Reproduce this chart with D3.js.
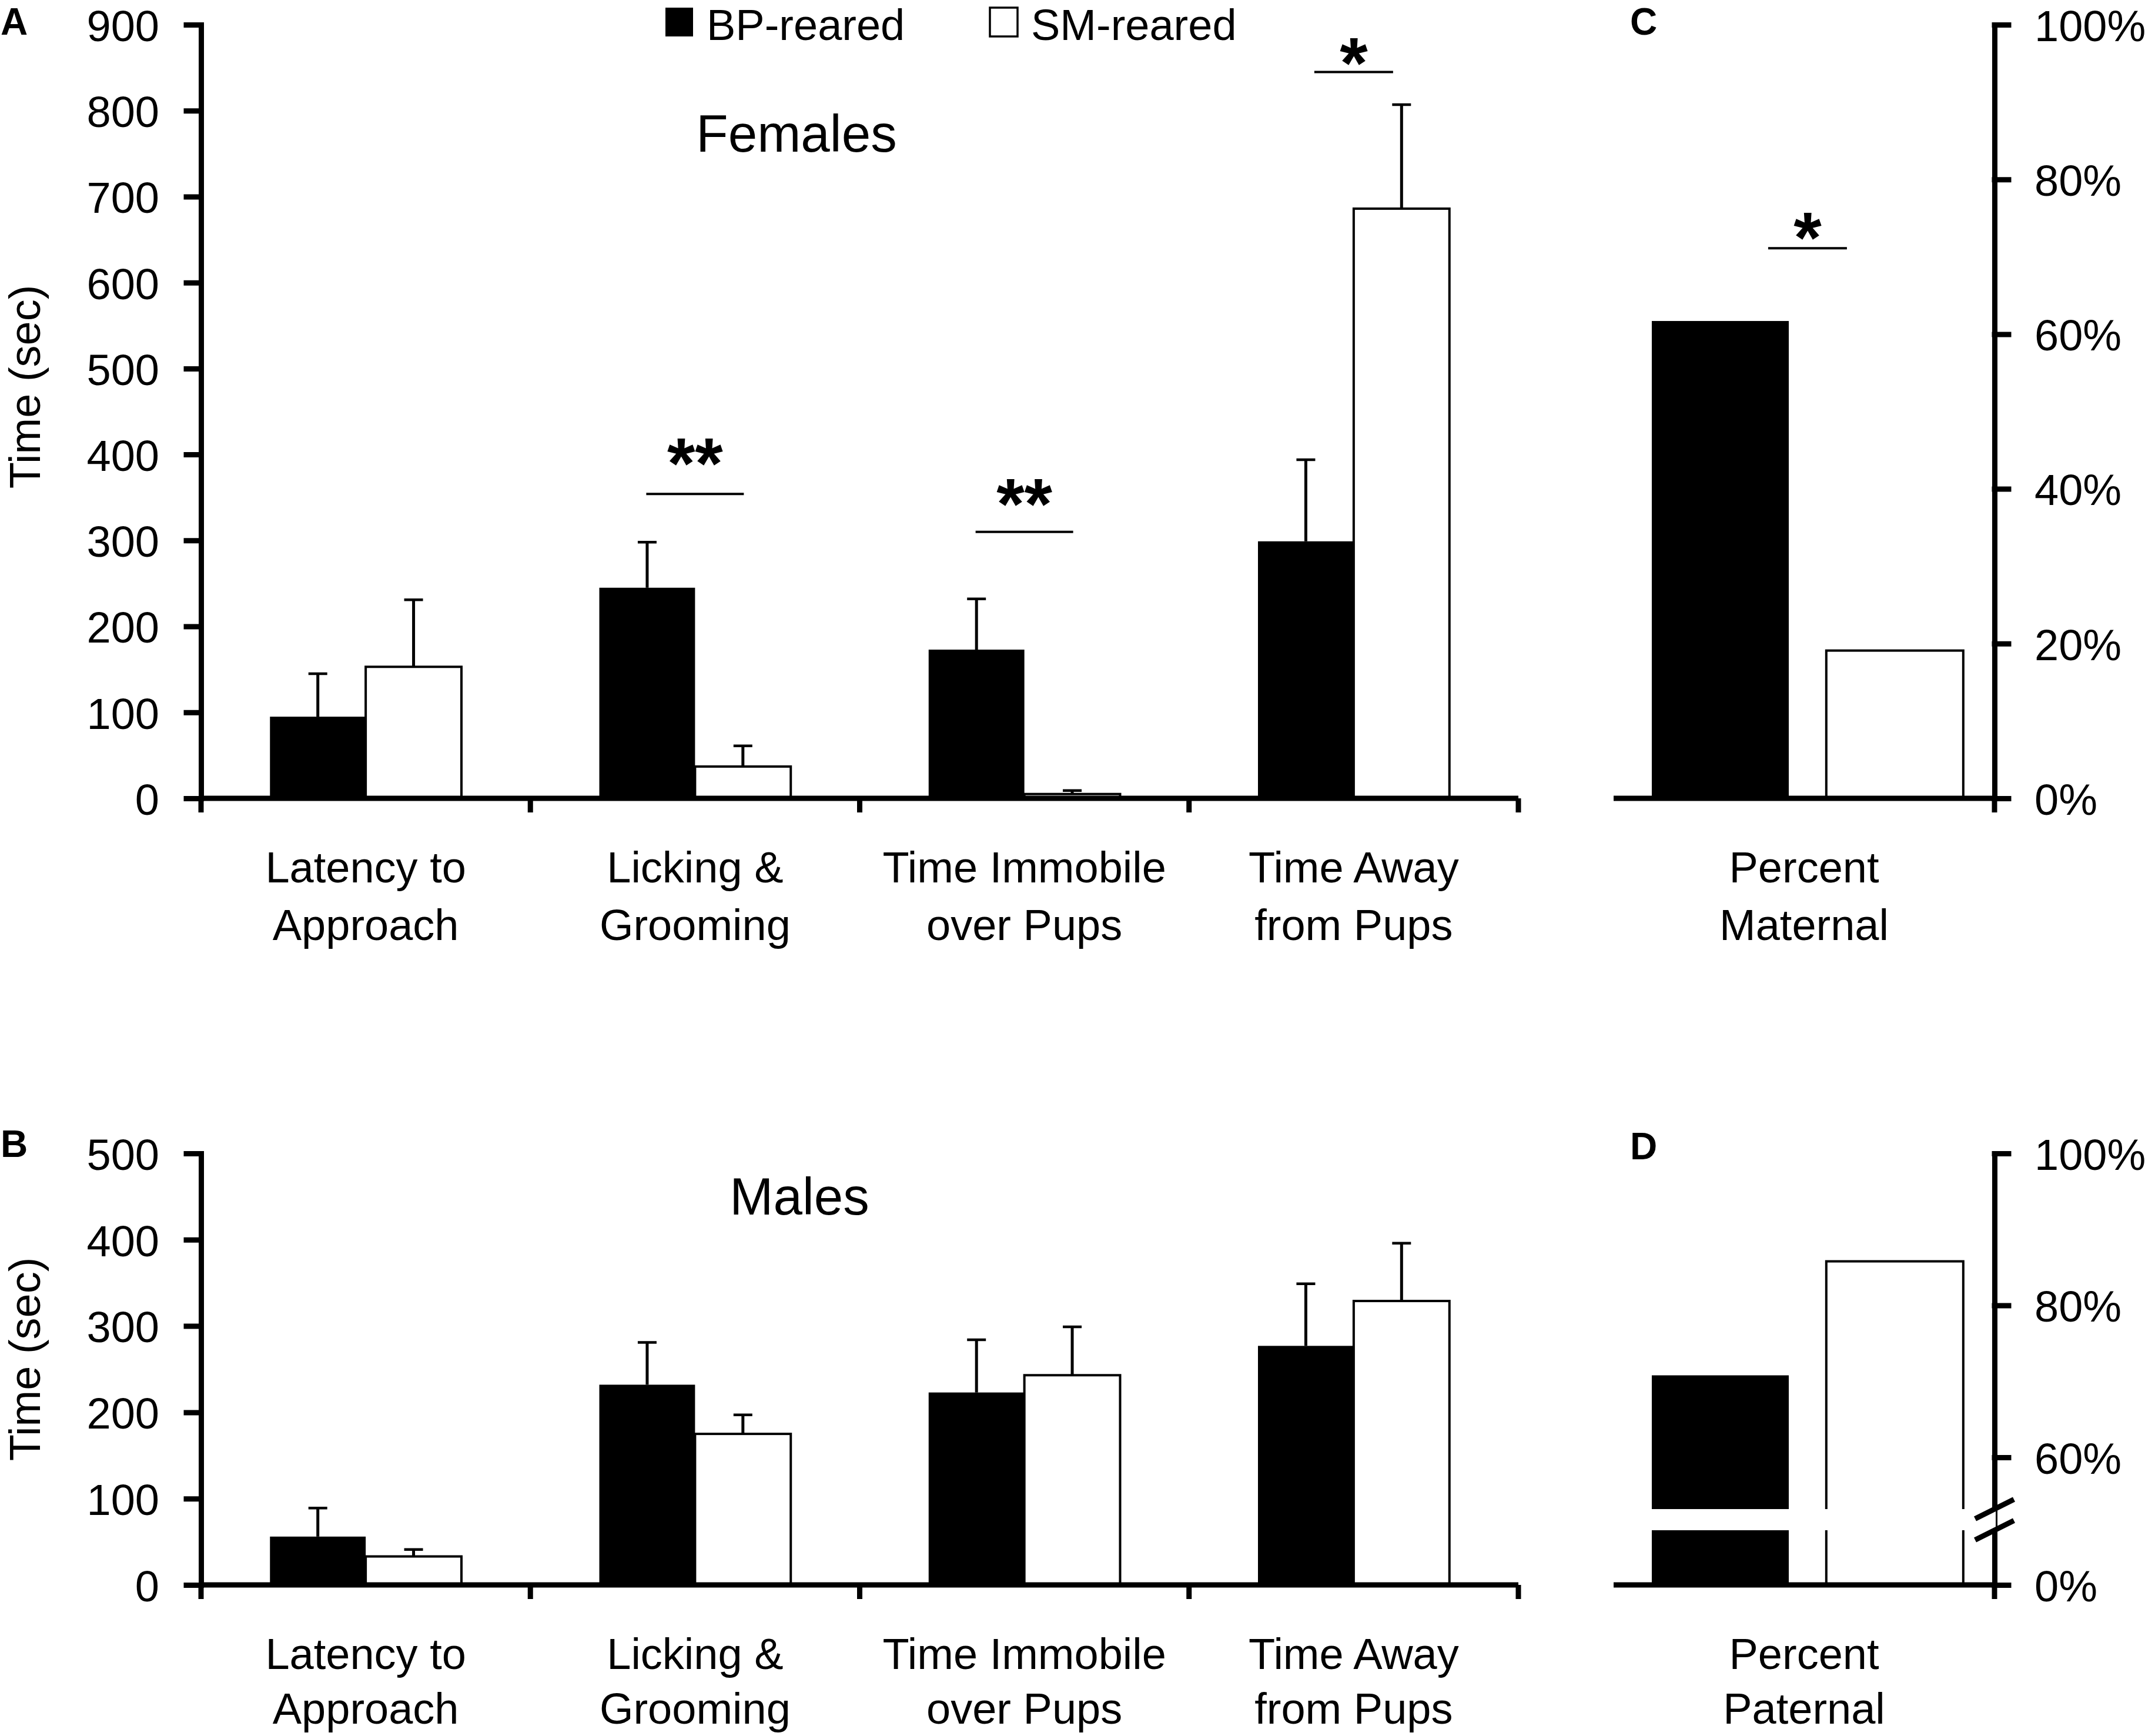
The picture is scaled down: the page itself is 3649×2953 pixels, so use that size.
<!DOCTYPE html>
<html>
<head>
<meta charset="utf-8">
<script src="https://cdn.jsdelivr.net/npm/d3@7"></script>
<style>
  body { margin: 0; background: #fff; }
  svg { display: block; font-family: 'Liberation Sans', Arial, sans-serif; }
</style>
</head>
<body>
<div id="chart"></div>
<script>
const categories = ['Latency to Approach', 'Licking & Grooming', 'Time Immobile over Pups', 'Time Away from Pups'];
const categoryLines = [['Latency to', 'Approach'], ['Licking &', 'Grooming'], ['Time Immobile', 'over Pups'], ['Time Away', 'from Pups']];
const groups = ['BP-reared', 'SM-reared'];

// A: females, time in sec (mean and SEM)
const femaleBP = [95, 245, 173, 299];
const femaleBPErr = [50, 53, 59, 95];
const femaleSM = [153, 37, 5, 686];
const femaleSMErr = [78, 24, 4, 121];
const femaleTicks = [0, 100, 200, 300, 400, 500, 600, 700, 800, 900];
const femaleSig = [
  {category: 'Licking & Grooming', line: 354, star: 407, label: '**'},
  {category: 'Time Immobile over Pups', line: 310, star: 360, label: '**'},
  {category: 'Time Away from Pups', line: 845, star: 873, label: '*'}
];

// B: males
const maleBP = [56, 232, 223, 277];
const maleBPErr = [33, 49, 61, 72];
const maleSM = [33, 175, 243, 329];
const maleSMErr = [8, 22, 56, 67];
const maleTicks = [0, 100, 200, 300, 400, 500];

// C and D: percent of animals
const maternal = [61.7, 19.1];
const maternalTicks = [0, 20, 40, 60, 80, 100];
const maternalSig = [{line: 71.1, star: 74.4, label: '*'}];
const paternal = [70.8, 85.8];
const paternalTicks = [0, 60, 80, 100];
const paternalBreak = [7.2, 53.2];

const W = 3649, H = 2953;
const timeX = [342, 2583];
const pctX = [2745, 3393];
const fills = {'BP-reared': '#000', 'SM-reared': '#fff'};
const AXIS_W = 9;
const FS = 74;
const sigHalf = {'**': 83, '*': 67};

const svg = d3.select('#chart').append('svg')
  .attr('width', W)
  .attr('height', H)
  .attr('viewBox', `0 0 ${W} ${H}`);

svg.append('rect').attr('width', W).attr('height', H).attr('fill', '#fff');

function styleAxis(a, anchor) {
  a.attr('font-size', FS).attr('font-family', null).attr('text-anchor', anchor);
  a.selectAll('path, line').attr('stroke', '#000').attr('stroke-width', AXIS_W).attr('stroke-linecap', 'square');
  a.selectAll('text').attr('fill', '#000').attr('dy', '0.37em');
}

function drawSig(g, sig, cx, y) {
  g.selectAll('line.sig').data(sig).join('line')
    .attr('class', 'sig')
    .attr('x1', d => cx(d) - sigHalf[d.label])
    .attr('x2', d => cx(d) + sigHalf[d.label])
    .attr('y1', d => y(d.line))
    .attr('y2', d => y(d.line))
    .attr('stroke', '#000')
    .attr('stroke-width', 4);

  const starSize = 122;
  g.selectAll('text.star').data(sig).join('text')
    .attr('class', 'star')
    .attr('x', d => cx(d))
    .attr('y', d => y(d.star) + 0.55 * starSize)
    .attr('text-anchor', 'middle')
    .attr('font-weight', 'bold')
    .attr('font-size', starSize)
    .text(d => d.label);
}

function drawTimePanel(cfg) {
  const g = svg.append('g');
  const x0 = d3.scaleBand().domain(categories).range(timeX);
  const x1 = d3.scaleBand().domain(groups).range([0, x0.bandwidth()]).paddingOuter(0.72);
  const y = d3.scaleLinear().domain([0, d3.max(cfg.ticks)]).range([cfg.bottom, cfg.top]);

  const rows = categories.flatMap((c, i) => [
    {c: c, grp: groups[0], v: cfg.bp[i], e: cfg.bpErr[i]},
    {c: c, grp: groups[1], v: cfg.sm[i], e: cfg.smErr[i]}
  ]);

  g.selectAll('rect.bar').data(rows).join('rect')
    .attr('class', 'bar')
    .attr('x', d => x0(d.c) + x1(d.grp))
    .attr('y', d => y(d.v))
    .attr('width', x1.bandwidth())
    .attr('height', d => y(0) - y(d.v))
    .attr('fill', d => fills[d.grp])
    .attr('stroke', d => d.grp === groups[1] ? '#000' : 'none')
    .attr('stroke-width', 4);

  // error bars, upper side only
  const cxBar = d => x0(d.c) + x1(d.grp) + x1.bandwidth() / 2;
  g.selectAll('line.err').data(rows).join('line')
    .attr('class', 'err')
    .attr('x1', cxBar).attr('x2', cxBar)
    .attr('y1', d => y(d.v)).attr('y2', d => y(d.v + d.e))
    .attr('stroke', '#000').attr('stroke-width', 5);
  g.selectAll('line.cap').data(rows).join('line')
    .attr('class', 'cap')
    .attr('x1', d => cxBar(d) - 16).attr('x2', d => cxBar(d) + 16)
    .attr('y1', d => y(d.v + d.e)).attr('y2', d => y(d.v + d.e))
    .attr('stroke', '#000').attr('stroke-width', 4.5);

  // y axis
  g.append('g')
    .attr('transform', `translate(${timeX[0]},0)`)
    .call(d3.axisLeft(y).tickValues(cfg.ticks).tickSize(25).tickSizeOuter(0).tickPadding(46))
    .call(a => styleAxis(a, 'end'));

  // x axis with ticks at category boundaries
  g.append('line')
    .attr('x1', timeX[0]).attr('x2', timeX[1])
    .attr('y1', y(0)).attr('y2', y(0))
    .attr('stroke', '#000').attr('stroke-width', AXIS_W);
  const bounds = categories.map(c => x0(c)).concat([timeX[1]]);
  g.selectAll('line.xtick').data(bounds).join('line')
    .attr('class', 'xtick')
    .attr('x1', d => d).attr('x2', d => d)
    .attr('y1', y(0)).attr('y2', y(0) + 24)
    .attr('stroke', '#000').attr('stroke-width', AXIS_W);

  // category labels
  const lab = g.selectAll('text.cat').data(categories).join('text')
    .attr('class', 'cat')
    .attr('text-anchor', 'middle')
    .attr('font-size', FS);
  lab.selectAll('tspan').data((d, i) => categoryLines[i].map(t => ({t: t, c: d}))).join('tspan')
    .attr('x', d => x0(d.c) + x0.bandwidth() / 2)
    .attr('y', (d, j) => y(0) + (j === 0 ? 143 : cfg.line2))
    .text(d => d.t);

  // axis title
  g.append('text')
    .attr('transform', `translate(68,${cfg.titleMid}) rotate(-90)`)
    .attr('text-anchor', 'middle')
    .attr('font-size', FS)
    .text('Time (sec)');

  g.append('text')
    .attr('x', cfg.headX).attr('y', cfg.headY)
    .attr('text-anchor', 'middle')
    .attr('font-size', 89)
    .text(cfg.head);

  g.append('text')
    .attr('x', 1).attr('y', cfg.letterY)
    .attr('font-weight', 'bold')
    .attr('font-size', 64)
    .text(cfg.letter);

  if (cfg.sig) {
    drawSig(g, cfg.sig, d => x0(d.category) + x0.bandwidth() / 2, y);
  }
}

function drawPctPanel(cfg) {
  const g = svg.append('g');
  const x = d3.scaleBand().domain(groups).range(pctX)
    .paddingInner(0.215).paddingOuter(0.199).align(0.55);
  let y;
  if (cfg.brk) {
    y = d3.scaleLinear()
      .domain([0, cfg.brk[0], cfg.brk[1], 100])
      .range([cfg.bottom, cfg.bottom - 93, cfg.bottom - 129, cfg.top]);
  } else {
    y = d3.scaleLinear().domain([0, 100]).range([cfg.bottom, cfg.top]);
  }

  g.selectAll('rect.bar').data(groups).join('rect')
    .attr('class', 'bar')
    .attr('x', d => x(d))
    .attr('y', (d, i) => y(cfg.values[i]))
    .attr('width', x.bandwidth())
    .attr('height', (d, i) => y(0) - y(cfg.values[i]))
    .attr('fill', d => fills[d])
    .attr('stroke', d => d === groups[1] ? '#000' : 'none')
    .attr('stroke-width', 4);

  g.append('g')
    .attr('transform', `translate(${pctX[1]},0)`)
    .call(d3.axisRight(y).tickValues(cfg.ticks).tickSize(24).tickSizeOuter(0).tickPadding(44)
      .tickFormat(d => d + '%'))
    .call(a => styleAxis(a, 'start'));

  g.append('line')
    .attr('x1', pctX[0]).attr('x2', pctX[1])
    .attr('y1', y(0)).attr('y2', y(0))
    .attr('stroke', '#000').attr('stroke-width', AXIS_W);
  g.append('line')
    .attr('x1', pctX[1]).attr('x2', pctX[1])
    .attr('y1', y(0)).attr('y2', y(0) + 24)
    .attr('stroke', '#000').attr('stroke-width', AXIS_W);

  if (cfg.brk) {
    // axis break: blank band through bars and axis, then the two slashes
    g.append('rect')
      .attr('x', x(groups[0]) - 10)
      .attr('y', y(cfg.brk[1]))
      .attr('width', pctX[1] + 12 - x(groups[0]))
      .attr('height', y(cfg.brk[0]) - y(cfg.brk[1]))
      .attr('fill', '#fff');
    g.selectAll('line.brk').data(cfg.brk).join('line')
      .attr('class', 'brk')
      .attr('x1', pctX[1] - 33).attr('x2', pctX[1] + 33)
      .attr('y1', d => y(d) + 16.5).attr('y2', d => y(d) - 16.5)
      .attr('stroke', '#000').attr('stroke-width', 9);
  }

  const cx = (pctX[0] + pctX[1]) / 2;
  g.append('text')
    .attr('text-anchor', 'middle')
    .attr('font-size', FS)
    .selectAll('tspan').data(cfg.label).join('tspan')
    .attr('x', cx)
    .attr('y', (d, j) => y(0) + (j === 0 ? 143 : cfg.line2))
    .text(d => d);

  g.append('text')
    .attr('x', 2773).attr('y', cfg.letterY)
    .attr('font-weight', 'bold')
    .attr('font-size', 64)
    .text(cfg.letter);

  if (cfg.sig) {
    drawSig(g, cfg.sig, () => x(groups[0]) + (x(groups[1]) + x.bandwidth() - x(groups[0])) / 2, y);
  }
}

drawTimePanel({
  bp: femaleBP, bpErr: femaleBPErr, sm: femaleSM, smErr: femaleSMErr,
  ticks: femaleTicks, sig: femaleSig, top: 42, bottom: 1358, line2: 241,
  titleMid: 658, head: 'Females', headX: 1355, headY: 258, letter: 'A', letterY: 59
});
drawTimePanel({
  bp: maleBP, bpErr: maleBPErr, sm: maleSM, smErr: maleSMErr,
  ticks: maleTicks, top: 1962, bottom: 2696, line2: 236,
  titleMid: 2312, head: 'Males', headX: 1360, headY: 2066, letter: 'B', letterY: 1968
});
drawPctPanel({
  values: maternal, ticks: maternalTicks, sig: maternalSig, top: 42, bottom: 1358, line2: 241,
  label: ['Percent', 'Maternal'], letter: 'C', letterY: 59
});
drawPctPanel({
  values: paternal, ticks: paternalTicks, brk: paternalBreak, top: 1962, bottom: 2696, line2: 236,
  label: ['Percent', 'Paternal'], letter: 'D', letterY: 1972
});

// legend
const legend = svg.append('g').attr('font-size', FS);
const legendX = [1132, 1684];
legend.selectAll('rect').data(groups).join('rect')
  .attr('x', (d, i) => legendX[i])
  .attr('y', 13)
  .attr('width', 47)
  .attr('height', 49)
  .attr('fill', d => fills[d])
  .attr('stroke', '#000')
  .attr('stroke-width', (d, i) => i === 0 ? 0 : 3.5);
legend.selectAll('text').data(groups).join('text')
  .attr('x', (d, i) => legendX[i] + 70)
  .attr('y', 68)
  .text(d => d);
</script>
</body>
</html>
